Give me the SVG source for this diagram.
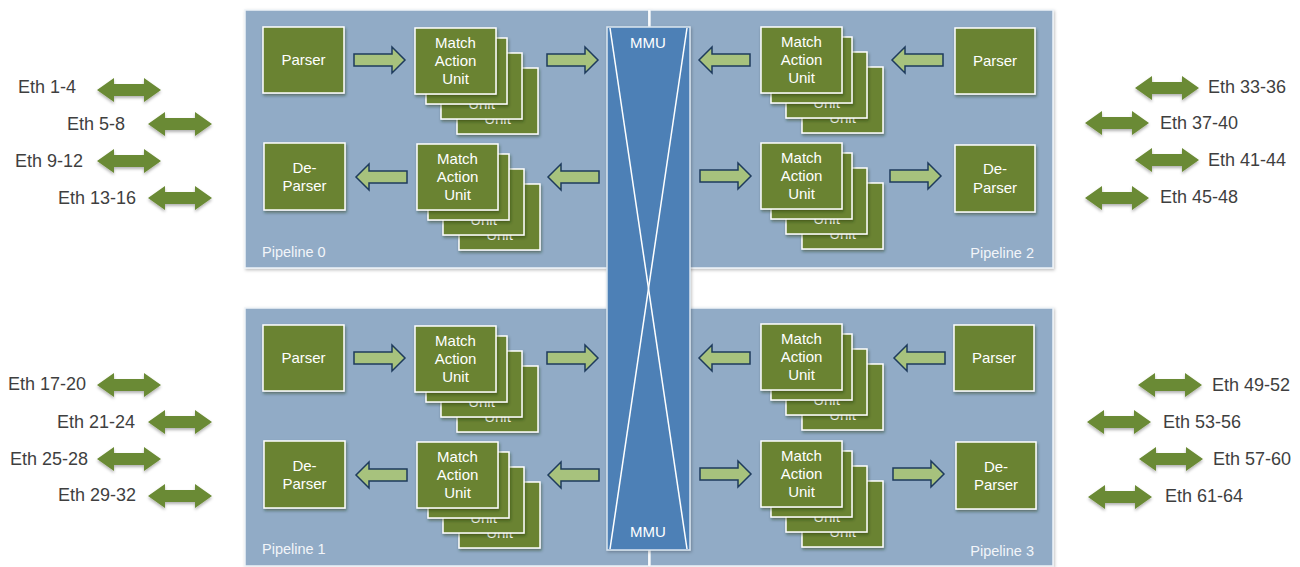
<svg xmlns="http://www.w3.org/2000/svg" xmlns:xlink="http://www.w3.org/1999/xlink" width="1300" height="567" viewBox="0 0 1300 567">
  <style>
    .panel { fill: #91abc6; stroke: #eef3f8; stroke-width: 1.5; filter: url(#panelShadow); }
    .box { fill: #6a8332; stroke: #ffffff; stroke-width: 1.5; filter: url(#cardShadow); }
    .boxtxt { font-family: "Liberation Sans", Arial, sans-serif; font-size: 15px; fill: #ffffff; text-anchor: middle; }
    .plabel { font-family: "Liberation Sans", Arial, sans-serif; font-size: 14.5px; fill: #f2f5f9; }
    .flow { fill: #a7c27d; stroke: #1e3b5c; stroke-width: 1.5; stroke-linejoin: miter; }
    .eth { fill: #6a8a34; filter: url(#ethShadow); }
    .ethtxt { font-family: "Liberation Sans", Arial, sans-serif; font-size: 18px; fill: #3f3f3f; }
    .mmu { fill: #4d80b6; stroke: #dce6f0; stroke-width: 1.5; filter: url(#panelShadow); }
    .mmutxt { font-family: "Liberation Sans", Arial, sans-serif; font-size: 15px; fill: #ffffff; text-anchor: middle; }
    .wline { stroke: #ffffff; stroke-width: 1.5; fill: none; }
  </style>
  <defs>
    <filter id="panelShadow" x="-5%" y="-5%" width="110%" height="110%">
      <feDropShadow dx="1" dy="1.5" stdDeviation="1.5" flood-color="#000" flood-opacity="0.25"/>
    </filter>
    <filter id="cardShadow" x="-10%" y="-10%" width="125%" height="130%">
      <feDropShadow dx="1" dy="2" stdDeviation="1.5" flood-color="#1a2a10" flood-opacity="0.45"/>
    </filter>
    <filter id="ethShadow" x="-10%" y="-40%" width="120%" height="190%">
      <feDropShadow dx="0" dy="2" stdDeviation="1.5" flood-color="#000" flood-opacity="0.3"/>
    </filter>
    <!-- block arrows used inside each pipeline -->
    <path id="arrowR" d="M0,-6 H38 V-13 L51,0 L38,13 V6 H0 Z"/>
    <path id="arrowL" d="M51,-6 H13 V-13 L0,0 L13,13 V6 H51 Z"/>
    <!-- double-headed port arrow -->
    <path id="ethArrow" d="M0,0 L17,-12 L17,-6 L47,-6 L47,-12 L64,0 L47,12 L47,6 L17,6 L17,12 Z"/>
    <!-- one match-action card -->
    <g id="mauCard">
      <rect class="box" width="81" height="66"/>
      <text class="boxtxt" x="40.5" y="20">Match</text>
      <text class="boxtxt" x="40.5" y="38">Action</text>
      <text class="boxtxt" x="40.5" y="56">Unit</text>
    </g>
  </defs>

  <!-- pipeline panels -->
  <g id="pipeline0"><rect class="panel" x="245" y="10" width="404" height="258"/><text class="plabel" x="262" y="257">Pipeline 0</text></g>
  <g id="pipeline1"><rect class="panel" x="245" y="308" width="404" height="258"/><text class="plabel" x="262" y="554">Pipeline 1</text></g>
  <g id="pipeline2"><rect class="panel" x="650" y="10" width="403" height="258"/><text class="plabel" x="1034" y="258" text-anchor="end">Pipeline 2</text></g>
  <g id="pipeline3"><rect class="panel" x="650" y="308" width="403" height="258"/><text class="plabel" x="1034" y="556" text-anchor="end">Pipeline 3</text></g>

  <!-- shared memory unit -->
  <g id="mmu">
    <line class="wline" x1="649" y1="10" x2="649" y2="27"/>
    <line class="wline" x1="649" y1="550" x2="649" y2="566"/>
    <rect class="mmu" x="607" y="27" width="83" height="523"/>
    <line class="wline" x1="610" y1="28" x2="687" y2="549"/>
    <line class="wline" x1="687" y1="28" x2="610" y2="549"/>
    <text class="mmutxt" x="648" y="48">MMU</text>
    <text class="mmutxt" x="648" y="537">MMU</text>
  </g>

  <!-- pipeline 0 -->
  <g id="p0-parser"><rect class="box" x="263" y="27" width="81" height="66"/><text class="boxtxt" x="303.5" y="65">Parser</text></g>
  <g id="p0-mau-ingress"><use xlink:href="#mauCard" x="457" y="68"/><use xlink:href="#mauCard" x="441" y="53"/><use xlink:href="#mauCard" x="426" y="38"/><use xlink:href="#mauCard" x="415" y="28"/></g>
  <g id="p0-mau-egress"><use xlink:href="#mauCard" x="459" y="184"/><use xlink:href="#mauCard" x="443" y="169"/><use xlink:href="#mauCard" x="428" y="154"/><use xlink:href="#mauCard" x="417" y="144"/></g>
  <g id="p0-deparser"><rect class="box" x="264" y="143" width="81" height="67"/><text class="boxtxt" x="304.5" y="173">De-</text><text class="boxtxt" x="304.5" y="191">Parser</text></g>

  <!-- pipeline 1 -->
  <g id="p1-parser"><rect class="box" x="263" y="325" width="81" height="66"/><text class="boxtxt" x="303.5" y="363">Parser</text></g>
  <g id="p1-mau-ingress"><use xlink:href="#mauCard" x="457" y="366"/><use xlink:href="#mauCard" x="441" y="351"/><use xlink:href="#mauCard" x="426" y="336"/><use xlink:href="#mauCard" x="415" y="326"/></g>
  <g id="p1-mau-egress"><use xlink:href="#mauCard" x="459" y="482"/><use xlink:href="#mauCard" x="443" y="467"/><use xlink:href="#mauCard" x="428" y="452"/><use xlink:href="#mauCard" x="417" y="442"/></g>
  <g id="p1-deparser"><rect class="box" x="264" y="441" width="81" height="67"/><text class="boxtxt" x="304.5" y="471">De-</text><text class="boxtxt" x="304.5" y="489">Parser</text></g>

  <!-- pipeline 2 -->
  <g id="p2-parser"><rect class="box" x="955" y="28" width="80" height="66"/><text class="boxtxt" x="995" y="66">Parser</text></g>
  <g id="p2-mau-ingress"><use xlink:href="#mauCard" x="802" y="67"/><use xlink:href="#mauCard" x="786" y="52"/><use xlink:href="#mauCard" x="771" y="37"/><use xlink:href="#mauCard" x="761" y="27"/></g>
  <g id="p2-mau-egress"><use xlink:href="#mauCard" x="802" y="183"/><use xlink:href="#mauCard" x="786" y="168"/><use xlink:href="#mauCard" x="771" y="153"/><use xlink:href="#mauCard" x="761" y="143"/></g>
  <g id="p2-deparser"><rect class="box" x="955" y="145" width="80" height="67"/><text class="boxtxt" x="995" y="174">De-</text><text class="boxtxt" x="995" y="193">Parser</text></g>

  <!-- pipeline 3 -->
  <g id="p3-parser"><rect class="box" x="954" y="325" width="80" height="66"/><text class="boxtxt" x="994" y="363">Parser</text></g>
  <g id="p3-mau-ingress"><use xlink:href="#mauCard" x="802" y="364"/><use xlink:href="#mauCard" x="786" y="349"/><use xlink:href="#mauCard" x="771" y="334"/><use xlink:href="#mauCard" x="761" y="324"/></g>
  <g id="p3-mau-egress"><use xlink:href="#mauCard" x="802" y="481"/><use xlink:href="#mauCard" x="786" y="466"/><use xlink:href="#mauCard" x="771" y="451"/><use xlink:href="#mauCard" x="761" y="441"/></g>
  <g id="p3-deparser"><rect class="box" x="956" y="442" width="80" height="67"/><text class="boxtxt" x="996" y="472">De-</text><text class="boxtxt" x="996" y="490">Parser</text></g>

  <!-- connectors -->
  <g id="connectors">
    <!-- pipeline 0 -->
    <use class="flow" xlink:href="#arrowR" x="354" y="60"/>
    <use class="flow" xlink:href="#arrowR" x="547" y="60"/>
    <use class="flow" xlink:href="#arrowL" x="548" y="177"/>
    <use class="flow" xlink:href="#arrowL" x="356" y="177"/>
    <!-- pipeline 1 -->
    <use class="flow" xlink:href="#arrowR" x="354" y="358"/>
    <use class="flow" xlink:href="#arrowR" x="547" y="358"/>
    <use class="flow" xlink:href="#arrowL" x="548" y="475"/>
    <use class="flow" xlink:href="#arrowL" x="356" y="475"/>
    <!-- pipeline 2 -->
    <use class="flow" xlink:href="#arrowL" x="892" y="60"/>
    <use class="flow" xlink:href="#arrowL" x="699" y="60"/>
    <use class="flow" xlink:href="#arrowR" x="700" y="176"/>
    <use class="flow" xlink:href="#arrowR" x="890" y="176"/>
    <!-- pipeline 3 -->
    <use class="flow" xlink:href="#arrowL" x="894" y="358"/>
    <use class="flow" xlink:href="#arrowL" x="699" y="358"/>
    <use class="flow" xlink:href="#arrowR" x="700" y="474"/>
    <use class="flow" xlink:href="#arrowR" x="893" y="474"/>

    <!-- ethernet ports, left side -->
    <use class="eth" xlink:href="#ethArrow" x="97" y="90"/>
    <use class="eth" xlink:href="#ethArrow" x="148" y="124"/>
    <use class="eth" xlink:href="#ethArrow" x="97" y="161"/>
    <use class="eth" xlink:href="#ethArrow" x="148" y="198"/>
    <use class="eth" xlink:href="#ethArrow" x="97" y="385"/>
    <use class="eth" xlink:href="#ethArrow" x="148" y="422"/>
    <use class="eth" xlink:href="#ethArrow" x="97" y="459"/>
    <use class="eth" xlink:href="#ethArrow" x="148" y="496"/>
    <!-- ethernet ports, right side -->
    <use class="eth" xlink:href="#ethArrow" x="1135" y="88"/>
    <use class="eth" xlink:href="#ethArrow" x="1085" y="123"/>
    <use class="eth" xlink:href="#ethArrow" x="1135" y="160"/>
    <use class="eth" xlink:href="#ethArrow" x="1085" y="198"/>
    <use class="eth" xlink:href="#ethArrow" x="1138" y="385"/>
    <use class="eth" xlink:href="#ethArrow" x="1087" y="422"/>
    <use class="eth" xlink:href="#ethArrow" x="1139" y="459"/>
    <use class="eth" xlink:href="#ethArrow" x="1088" y="497"/>
  </g>

  <!-- port labels -->
  <g id="eth-labels">
    <text class="ethtxt" x="18" y="93">Eth 1-4</text>
    <text class="ethtxt" x="67" y="130">Eth 5-8</text>
    <text class="ethtxt" x="15" y="167">Eth 9-12</text>
    <text class="ethtxt" x="58" y="204">Eth 13-16</text>
    <text class="ethtxt" x="8" y="390">Eth 17-20</text>
    <text class="ethtxt" x="57" y="428">Eth 21-24</text>
    <text class="ethtxt" x="10" y="465">Eth 25-28</text>
    <text class="ethtxt" x="58" y="501">Eth 29-32</text>
    <text class="ethtxt" x="1208" y="93">Eth 33-36</text>
    <text class="ethtxt" x="1160" y="129">Eth 37-40</text>
    <text class="ethtxt" x="1208" y="166">Eth 41-44</text>
    <text class="ethtxt" x="1160" y="203">Eth 45-48</text>
    <text class="ethtxt" x="1212" y="391">Eth 49-52</text>
    <text class="ethtxt" x="1163" y="428">Eth 53-56</text>
    <text class="ethtxt" x="1213" y="465">Eth 57-60</text>
    <text class="ethtxt" x="1165" y="502">Eth 61-64</text>
  </g>
</svg>
